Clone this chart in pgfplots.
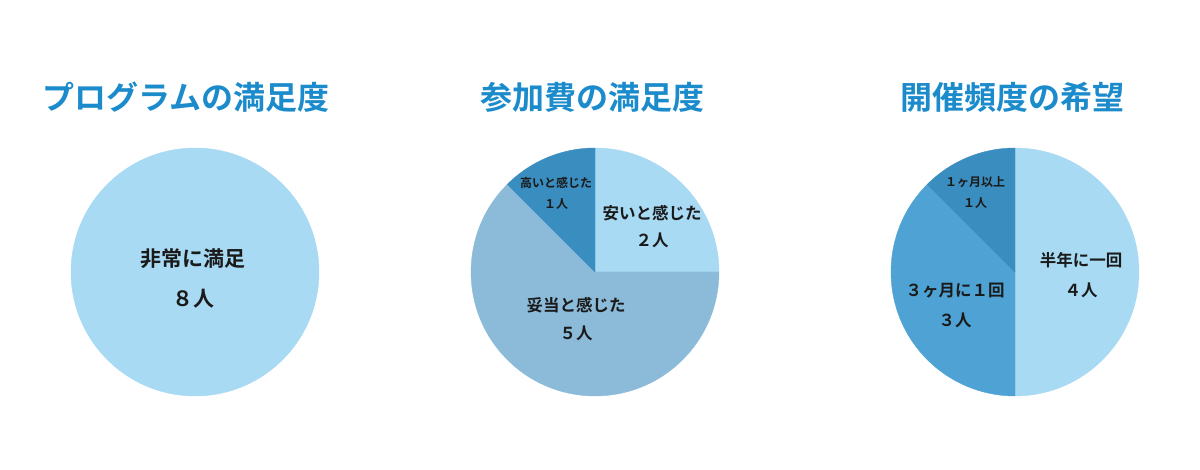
\documentclass[border=0pt]{standalone}
\usepackage{pgfplots}
\pgfplotsset{compat=1.18}
\usepackage{fontspec}
\setmainfont{Noto Sans CJK JP}[BoldFont={Noto Sans CJK JP Bold}]

\definecolor{cLight}{HTML}{A8DAF4}
\definecolor{cMid}{HTML}{8CBBDA}
\definecolor{cMidB}{HTML}{4EA3D4}
\definecolor{cDark}{HTML}{3A8DBF}
\definecolor{cTitle}{HTML}{1B8BCB}
\definecolor{cText}{HTML}{1A1A1A}

% one wedge per data row: centre (x,y), start angle a0, end angle a1
\pgfplotsset{
  wedge/.style={
    only marks, scatter, mark=*, mark size=0pt,
    mark options={draw=none, fill=none},
    visualization depends on={value \thisrow{a0}\as\angA},
    visualization depends on={value \thisrow{a1}\as\angB},
    scatter/@pre marker code/.code={%
      \fill[#1] (0,0) -- (\angA:124pt)
        arc[start angle=\angA, end angle=\angB, radius=124pt] -- cycle;},
    scatter/@post marker code/.code={},
  },
}

\begin{document}
\begin{tikzpicture}
\begin{axis}[
    width=1200pt, height=469pt, scale only axis,
    xmin=0, xmax=1200, ymin=0, ymax=469,
    hide axis, clip=false, set layers,
  ]
  \draw[draw=none] (axis cs:0,0) rectangle (axis cs:1200,469);

  % light: 非常に満足 8, 安い 2, 半年に一回 4
  \addplot[wedge=cLight] table[row sep=\\] {
    x y a0 a1 \\
    195 197 -270 90 \\
    595 197 0 90 \\
    1015 197 -90 90 \\
  };
  % 妥当と感じた 5
  \addplot[wedge=cMid] table[row sep=\\] {
    x y a0 a1 \\
    595 197 -225 0 \\
  };
  % 3ヶ月に1回 3
  \addplot[wedge=cMidB] table[row sep=\\] {
    x y a0 a1 \\
    1015 197 -225 -90 \\
  };
  % 高いと感じた 1, 1ヶ月以上 1
  \addplot[wedge=cDark] table[row sep=\\] {
    x y a0 a1 \\
    595 197 90 135 \\
    1015 197 90 135 \\
  };

  \begin{pgfonlayer}{axis foreground}
  \begin{scope}[every node/.style={font=\fontsize{32}{36}\selectfont\bfseries, text=cTitle}]
    \node at (axis cs:186,372) {プログラムの満足度};
    \node at (axis cs:592,372) {参加費の満足度};
    \node at (axis cs:1012,372) {開催頻度の希望};
  \end{scope}

  \begin{scope}[every node/.style={text=cText, align=center}]
    \node[font=\fontsize{21}{40}\selectfont\bfseries] at (axis cs:193,191) {非常に満足\\８人};
    \node[font=\fontsize{16.5}{27}\selectfont\bfseries] at (axis cs:652,242) {安いと感じた\\２人};
    \node[font=\fontsize{12}{21}\selectfont\bfseries] at (axis cs:556,276) {高いと感じた\\１人};
    \node[font=\fontsize{16.5}{28}\selectfont\bfseries] at (axis cs:576,150) {妥当と感じた\\５人};
    \node[font=\fontsize{16.5}{30}\selectfont\bfseries] at (axis cs:1081,194) {半年に一回\\４人};
    \node[font=\fontsize{12}{21}\selectfont\bfseries] at (axis cs:975,277) {１ヶ月以上\\１人};
    \node[font=\fontsize{16.5}{30}\selectfont\bfseries] at (axis cs:955,164) {３ヶ月に１回\\３人};
  \end{scope}
  \end{pgfonlayer}
\end{axis}
\end{tikzpicture}
\end{document}
